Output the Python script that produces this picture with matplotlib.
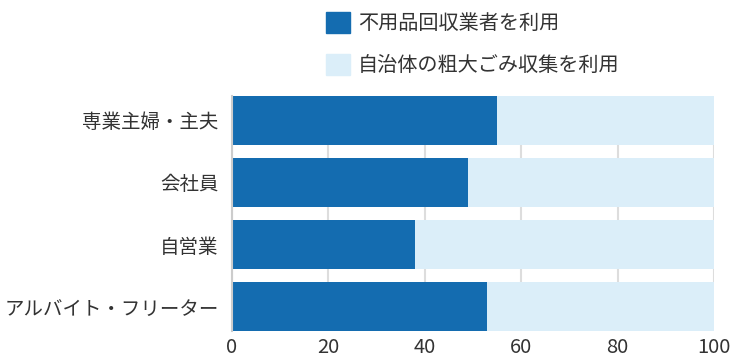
import matplotlib.pyplot as plt
from matplotlib.patches import Patch

plt.rcParams['font.family'] = ['Noto Sans CJK JP', 'DejaVu Sans']

# データ
categories = ['専業主婦・主夫', '会社員', '自営業', 'アルバイト・フリーター']
gyosha = [55, 49, 38, 53]          # 不用品回収業者を利用
jichitai = [45, 51, 62, 47]        # 自治体の粗大ごみ収集を利用
series_labels = ['不用品回収業者を利用', '自治体の粗大ごみ収集を利用']
xticks = [0, 20, 40, 60, 80, 100]

dark = '#146cb0'
light = '#dbeef9'
text_color = '#333333'
fs = 14.5

fig = plt.figure(figsize=(7.3, 3.58), dpi=100)
ax = fig.add_axes([232 / 730, 1 - 331 / 358, (714 - 232) / 730, (331 - 96) / 358])

y = range(len(categories))
ax.barh(y, gyosha, height=0.79, color=dark, zorder=2)
ax.barh(y, jichitai, left=gyosha, height=0.79, color=light, zorder=2)

ax.set_xlim(0, 100)
ax.set_ylim(len(categories) - 1 + 0.395, -0.395)
ax.set_xticks(xticks)
ax.set_yticks(list(y))
ax.set_yticklabels(categories)
ax.tick_params(length=0, labelsize=fs, colors=text_color)
ax.tick_params(axis='x', pad=4)
ax.tick_params(axis='y', pad=9.5, labelsize=14)

ax.grid(axis='x', color='#dddddd', linewidth=1.5, zorder=0)
ax.set_axisbelow(True)
for s in ['top', 'right', 'bottom']:
    ax.spines[s].set_visible(False)
ax.spines['left'].set_color('#cccccc')
ax.spines['left'].set_linewidth(1.5)

handles = [Patch(color=dark), Patch(color=light)]
fig.legend(handles, series_labels, loc='upper left',
           bbox_to_anchor=(326 / 730, 1 - 12 / 358), frameon=False,
           fontsize=fs, handlelength=1.19, handleheight=1.19,
           handletextpad=0.4, labelspacing=1.0, borderpad=0, borderaxespad=0,
           labelcolor=text_color)

fig.savefig('out.png', dpi=100)
